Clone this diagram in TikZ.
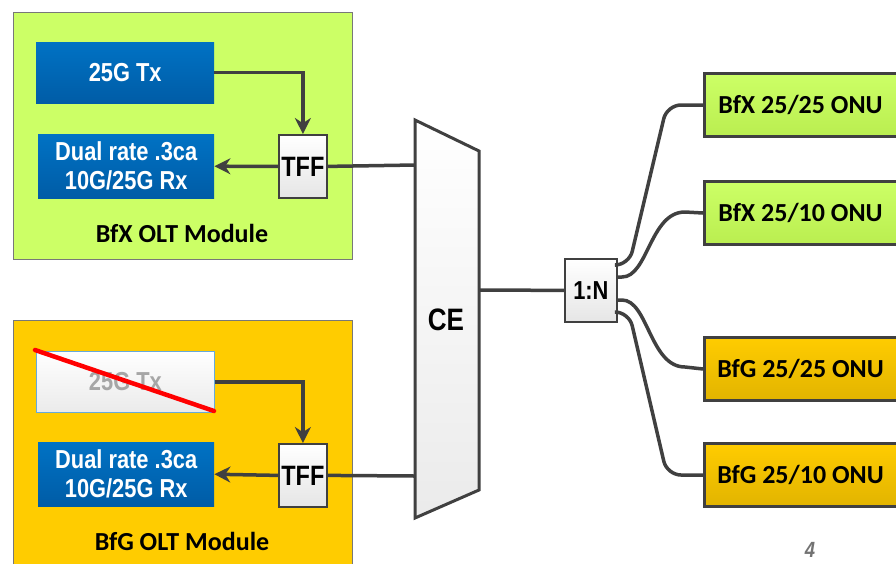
\documentclass[tikz,border=0pt]{standalone}
\usepackage{fontspec}
\setmainfont{Carlito}
\newfontfamily\nar[FakeStretch=0.84]{Liberation Sans}
\usetikzlibrary{arrows.meta,calc}
\definecolor{lime}{RGB}{204,255,102}
\definecolor{limeD}{RGB}{186,238,80}
\definecolor{gold}{RGB}{255,204,0}
\definecolor{goldD}{RGB}{226,180,0}
\definecolor{blueT}{RGB}{0,114,196}
\definecolor{blueB}{RGB}{0,92,166}
\definecolor{wire}{RGB}{64,64,64}
\definecolor{modborder}{RGB}{120,120,120}
\tikzset{
  module/.style={draw=modborder, line width=1pt, anchor=north west, inner sep=0pt},
  bluebox/.style={shade, top color=blueT, bottom color=blueB, draw=none, anchor=north west, inner sep=0pt, text=white, font=\nar\bfseries\fontsize{26}{29}\selectfont, align=center},
  greybox/.style={shade, top color=white, bottom color=black!8, draw=blueT!60, line width=0.8pt, anchor=north west, inner sep=0pt, text=black!35, font=\nar\bfseries\fontsize{26}{29}\selectfont},
  tffbox/.style={shade, top color=white, bottom color=black!10, draw=wire, line width=1.8pt, anchor=north west, inner sep=0pt, font=\nar\bfseries\fontsize{28}{30}\selectfont},
  onuG/.style={shade, top color=lime, bottom color=limeD, draw=wire, line width=3pt, anchor=north west, inner sep=0pt, font=\bfseries\fontsize{26}{28}\selectfont},
  onuO/.style={shade, top color=gold, bottom color=goldD, draw=wire, line width=3pt, anchor=north west, inner sep=0pt, font=\bfseries\fontsize{26}{28}\selectfont},
  modlabel/.style={font=\bfseries\fontsize{26}{28}\selectfont},
  wireln/.style={draw=wire, line width=3.5pt},
  arr/.style={wireln, -{Stealth[length=16pt,width=16pt]}},
}
\begin{document}
\begin{tikzpicture}[x=1pt,y=-1pt]
\useasboundingbox (0,0) rectangle (896,563);
% modules
\node[module, fill=lime, minimum width=339pt, minimum height=247pt] (bfx) at (13,12) {};
\node[module, fill=gold, minimum width=339pt, minimum height=250pt] (bfg) at (13,320) {};
\node[modlabel] (bfxl) at (182,233) {BfX OLT Module};
\node[modlabel] (bfgl) at (182,541) {BfG OLT Module};
% upper module
\node[bluebox, minimum width=178pt, minimum height=61pt] (tx1) at (36,42) {25G Tx};
\node[bluebox, minimum width=176pt, minimum height=64pt] (rx1) at (38,134) {Dual rate .3ca\\10G/25G Rx};
\node[tffbox, minimum width=48pt, minimum height=63pt] (tff1) at (278,134) {TFF};
% lower module
\node[greybox, minimum width=178pt, minimum height=61pt] (tx2) at (36,351) {25G Tx};
\node[bluebox, minimum width=176pt, minimum height=64pt] (rx2) at (38,442) {Dual rate .3ca\\10G/25G Rx};
\node[tffbox, minimum width=48pt, minimum height=63pt] (tff2) at (278,443) {TFF};
\coordinate (x1) at (35,350);
\coordinate (x2) at (214,411);
\draw[red, line width=4.5pt, line cap=round] (x1) -- (x2);
% arrows
\draw[arr] (tx1.east) -| (tff1.north);
\draw[arr] (tff1.west) -- (rx1.east);
\draw[arr] (tx2.east) -| (tff2.north);
\draw[arr] (tff2.west) -- (rx2.east);
% CE
\coordinate (ceTL) at (415,120);
\coordinate (ceTR) at (479,151);
\coordinate (ceBR) at (479,490);
\coordinate (ceBL) at (415,518);
\shade[top color=white, bottom color=black!8] (ceTL) -- (ceTR) -- (ceBR) -- (ceBL) -- cycle;
\draw[draw=wire, line width=3pt, line join=miter] (ceTL) -- (ceTR) -- (ceBR) -- (ceBL) -- cycle;
\node[font=\nar\bfseries\fontsize{31}{33}\selectfont] (ce) at (446,320) {CE};
\coordinate (ceIn1) at (415,165);
\coordinate (ceIn2) at (415,476);
\coordinate (ceOut) at (479,290);
\draw[wireln] (tff1.east) -- (ceIn1);
\draw[wireln] (tff2.east) -- (ceIn2);
% splitter
\node[tffbox, minimum width=52pt, minimum height=63pt, font=\nar\bfseries\fontsize{26}{28}\selectfont] (sp) at (564,258) {1:N};
\draw[wireln] (ceOut) -- (sp.west);
\coordinate (p1) at (616,265);
\coordinate (p2) at (616,277);
\coordinate (p3) at (616,300);
\coordinate (p4) at (616,312);
% ONUs
\node[onuG, minimum width=200pt, minimum height=63pt] (o1) at (703,72) {\hspace*{-4pt}BfX 25/25 ONU\hspace*{4pt}};
\node[onuG, minimum width=200pt, minimum height=63pt] (o2) at (703,180) {\hspace*{-4pt}BfX 25/10 ONU\hspace*{4pt}};
\node[onuO, minimum width=200pt, minimum height=63pt] (o3) at (703,336) {\hspace*{-4pt}BfG 25/25 ONU\hspace*{4pt}};
\node[onuO, minimum width=200pt, minimum height=63pt] (o4) at (703,442) {\hspace*{-4pt}BfG 25/10 ONU\hspace*{4pt}};
\coordinate (b1) at ($(o1.west)+(-36,0)$);
\coordinate (b4) at ($(o4.west)+(-36,0)$);
% fibres
\draw[wireln, rounded corners=14pt] (p1) -- (629,265) -- (b1) -- (o1.west);
\draw[wireln] (p2) -- (622,277) .. controls (648,277) and (650,212) .. (685,212) -- (o2.west);
\draw[wireln] (p3) -- (622,300) .. controls (648,300) and (650,367) .. (685,367) -- (o3.west);
\draw[wireln, rounded corners=14pt] (p4) -- (629,312) -- (b4) -- (o4.west);
% page number
\node[text=black!55, inner sep=0pt, font=\nar\bfseries\itshape\fontsize{22}{24}\selectfont] (pg) at (810,550) {4};
\end{tikzpicture}
\end{document}
